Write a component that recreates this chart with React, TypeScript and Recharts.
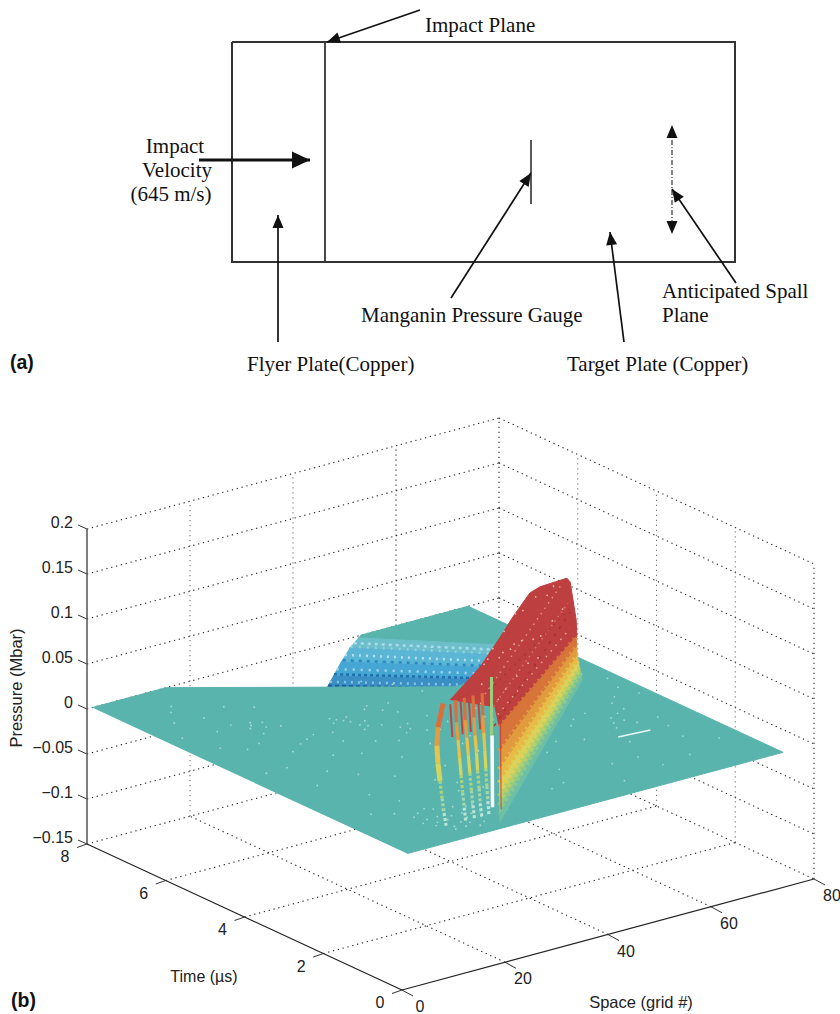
import React from 'react';
import { ScatterChart, Scatter, XAxis, YAxis } from 'recharts';

// 3d axes of panel b
const spaceTicks = [0, 20, 40, 60, 80];
const timeTicks = [0, 2, 4, 6, 8];
const pressureTicks = [-0.15, -0.1, -0.05, 0, 0.05, 0.1, 0.15, 0.2];
const pressureLabels = ['\u22120.15', '\u22120.1', '\u22120.05', '0', '0.05', '0.1', '0.15', '0.2'];

// surface outlines, [space, time, pressure]
const floorFront = [[1, 8, 0], [15.4, 8, 0], [51, 5.34, 0], [74, 5.2, 0], [74, 0, 0], [1, 0, 0]];
const floorBack = [[53.1, 8, 0], [74, 8, 0], [74, 5.2, 0], [67.7, 6.36, 0], [52.1, 7.93, 0]];
const troughLeft = [[52.1, 7.93, 0], [49.6, 7.82, -0.005], [46, 7.57, -0.01], [42.5, 7.31, -0.015], [40, 7.14, -0.02]];
const troughRight = [[67.7, 6.36, 0], [66.2, 6.18, -0.005], [63.9, 5.88, -0.01], [61.9, 5.62, -0.015], [56.8, 5.71, -0.02]];
const troughColors = ['#6cbfc8', '#5ab6d4', '#46a6d4', '#3a8fc4'];
const troughRows = [
  [[50.8, 7.87, -0.0025], [67, 6.27, -0.0025]],
  [[50, 7.84, -0.0045], [66.4, 6.2, -0.0045]],
  [[47.8, 7.7, -0.0075], [65, 6.03, -0.0075]],
  [[46.6, 7.6, -0.0095], [64.2, 5.92, -0.0095]],
  [[44.2, 7.44, -0.0125], [62.9, 5.75, -0.0125]],
  [[43, 7.35, -0.0145], [62.1, 5.65, -0.0145]],
  [[41.2, 7.22, -0.0175], [59.3, 5.66, -0.0175]],
  [[40.4, 7.16, -0.0195], [57.5, 5.7, -0.0195]],
];
const troughRowColors = ['#a9dcee', '#8fd0ea', '#b4e2f2', '#2b86c4', '#a4d8ee', '#1f70ac', '#8cc4e4', '#1a5c98'];
const troughRowDashes = ['3 4', '2 6', '2 5', '3 5', '2 6', '3 3', '2 5', '4 3'];

const plateau = [
  [16, 0.87, 0.13], [28.4, 1.73, 0.13], [38.8, 2.58, 0.13], [45.7, 3.16, 0.13], [54.1, 3.83, 0.13], [57, 3.95, 0.13],
  [62.6, 4, 0.13], [62, 3.84, 0.13], [67, 4.34, 0.07], [67.3, 4.36, 0.05], [20.4, 0.2, 0.107], [19.6, 0.2, 0.13],
];
const shockLeft = [[20.4, 0.2], [68.5, 4.38]];
const shockRightSpace = [68.5, 68.3, 68.1, 67.9, 67.7, 67.5, 67.4, 67.3];
const shockLeftLevels = [0, 0.01, 0.02, 0.03, 0.045, 0.06, 0.08, 0.107];
const shockRightLevels = [0, 0.005, 0.01, 0.015, 0.022, 0.03, 0.04, 0.05];
const shockColors = ['#6dbfa6', '#8cc98a', '#b5d06a', '#dcd25a', '#e8bb48', '#e29a3e', '#d6743a'];

// mesh lines across the red plateau
const plateauRows = [
  [[23, 0.9, 0.125], [61, 3.95, 0.125]],
  [[24, 0.9, 0.105], [62, 3.9, 0.105]],
  [[24, 0.8, 0.09], [64, 4.1, 0.088]],
  [[23, 0.7, 0.1], [64, 4.1, 0.07]],
  [[27, 1.3, 0.115], [63, 4, 0.095]],
];
const plateauRowColors = ['#e0938a', '#d8786e', '#a83232', '#e8a598', '#a93636'];
const plateauRowDashes = ['1.5 5', '1.5 4', '3 6', '1.5 6', '2 5'];

// spikes in front of the shock: space of each spike at each pressure level
const spikeLevels = [0.14, 0.115, 0.095, 0.075, 0.055, 0.035, 0.018, 0.003];
const spikeSpace = [
  [11.8, 10.8, 10.6, 10.8, 11.2, 11.6, 12, 12.4],
  [14.2, 14.4, 14.7, 15, 15.3, 15.6, 15.9, 16.2],
  [15.9, 16.1, 16.4, 16.7, 17, 17.3, 17.6, 17.9],
  [17.6, 17.8, 18, 18.3, 18.5, 18.8, 19, 19.3],
  [19.4, 19.5, 19.7, 19.9, 20.1, 20.3, 20.5, 20.7],
];
const spikeColors = ['#d9703c', '#e59a3e', '#e8c24a', '#d6d45c', '#aed479', '#a2d8a8', '#b8e4d4'];
const spikeGaps = [13.2, 15.2, 16.8, 18.6];

// pale mesh gaps on the teal floor, [space, time]
const floorSpecks = [
  [15.8, 5.9], [16.4, 6], [14.9, 5.8], [17.2, 5.7], [15.2, 5.5], [18, 5.9], [19.3, 5.6], [13.4, 6.1], [12, 6.6], [9.4, 7.1],
  [11, 7.3], [17.4, 6.8], [21, 6.5], [27.8, 5.3], [28.4, 5.2], [27.2, 5.4], [29, 5.1], [29.7, 5.3], [26.5, 5.2], [24, 4.9],
  [34, 5.4], [35.2, 5.5], [36, 5.2], [37.4, 5], [38.6, 5.4], [40, 4.6], [30, 4], [33, 3.6], [26, 3.4], [22, 3.9], [18, 4.1],
  [20, 2.8], [24, 2.3], [29, 2.7], [33, 2.2], [37, 2.9], [12, 2.4], [8, 3.2], [10, 1.5], [16, 1.3], [22, 1.1], [27, 0.9],
  [7, 1.7], [5, 4.1], [9, 5.1], [4, 6.1], [41, 6.4], [44, 6], [46, 5.5], [48, 4.4], [43, 3.1], [45, 2.2], [42, 1.5], [39, 1],
  [55, 1.2], [58, 1.8], [56, 0.7], [62, 0.8], [66, 1.5], [70, 1.1], [64, 2.9], [68, 2.4], [72, 3.4], [70, 4.6], [72, 4.2],
  [60, 3.2], [66, 3.3], [53, 2.3], [50, 1.2], [47, 0.5], [29.3, 4.9], [30.1, 4.8], [28.7, 4.7], [31, 5], [33.7, 4.45],
  [34.5, 4.3], [33, 4.2], [35.5, 4.5], [36.2, 4.1], [32, 4.7], [38, 4], [41, 4.2], [43, 4.6], [40, 3.5], [37, 3.3], [27, 4.2],
  [23, 4.5], [21, 5], [19, 4.9], [17, 4.8], [14, 4.6], [12, 5.2], [10, 6], [7, 6.7], [6, 5.4], [13, 3.6], [16, 3.2], [9, 4.1],
  [28, 1.6], [31, 1.2], [34, 1.6], [36, 0.9], [24, 1.7], [26, 2], [14, 1.9], [11, 0.9], [12, 0.7], [13, 0.8], [14, 0.5], [15, 0.8],
  [16, 0.6], [17, 0.5], [18, 0.7], [19, 0.4], [20, 0.6], [12.5, 1], [14.5, 1], [16.5, 0.9], [18.5, 0.9], [13.5, 0.4], [15.5, 0.4],
  [17.5, 0.3], [19.5, 0.8], [11.5, 1.2], [13, 1.3], [15, 1.4], [17, 1.2], [19, 1.2], [20.8, 1.1], [25, 0.6], [30, 1.8], [26, 1.2],
  [62, 2.8], [63, 2.6], [61, 2.6], [64, 2.4], [60, 2.4], [66, 3], [68, 3.5], [71, 3.8], [67, 2], [55, 2.9], [49, 2.5], [57, 3.1],
];
const floorStreak = [[57.8, 2.07, 0], [63.6, 2.01, 0]];

// pale mesh gaps on the red plateau, [space, time, pressure]
const plateauSpecks = [
  [32, 2.1, 0.12], [35, 2.4, 0.115], [38, 2.5, 0.11], [41, 2.8, 0.105], [44, 3, 0.1], [47, 3.3, 0.095], [50, 3.5, 0.09],
  [53, 3.6, 0.085], [56, 3.8, 0.08], [59, 3.9, 0.09], [61, 3.9, 0.1], [48, 3.4, 0.125], [51, 3.6, 0.12], [55, 3.8, 0.125],
  [58, 3.9, 0.12], [60, 4, 0.125], [42, 2.9, 0.125], [36, 2.4, 0.125], [30, 1.9, 0.105], [26, 1.4, 0.1], [23, 0.9, 0.1],
  [28, 1.4, 0.085], [34, 2, 0.08], [40, 2.6, 0.07], [46, 3.1, 0.065], [52, 3.6, 0.06], [57, 4, 0.05],
];

// schematic of panel a, in page units
const plateOutline = [[232, 42], [735, 42], [735, 262], [232, 262], [232, 42]];
const impactPlane = [[325, 42], [325, 262]];
const gaugeLine = [[531, 140], [531, 204]];
const spallPlane = [[672, 130], [672, 232]];
const arrowFrom = [[420, 10], [199, 160], [278, 342], [451, 298], [624, 342], [736, 283], [672, 200], [672, 160]];
const arrowTo = [[327, 42], [310, 160], [278, 215], [531, 173], [610, 232], [672, 189], [672, 125], [672, 234]];
const arrowBold = [false, true, false, false, false, false, false, false];
const arrowShaft = [true, true, true, true, true, true, false, false];

const schematicText = [
  { x: 425, y: 27, label: 'Impact Plane' },
  { x: 175, y: 148, label: 'Impact', anchor: 'middle' },
  { x: 177, y: 172, label: 'Velocity', anchor: 'middle' },
  { x: 171, y: 196, label: '(645 m/s)', anchor: 'middle' },
  { x: 361, y: 317, label: 'Manganin Pressure Gauge' },
  { x: 662, y: 293, label: 'Anticipated Spall' },
  { x: 662, y: 317, label: 'Plane' },
  { x: 247, y: 366, label: 'Flyer Plate(Copper)' },
  { x: 567, y: 366, label: 'Target Plate (Copper)' },
];

const serif = '"Liberation Serif", serif';
const sans = '"Liberation Sans", Arial, sans-serif';
const TEAL = '#5ab4ae';

const project = (s: number, t: number, p: number) => ({
  x: 402 + 5.15 * s - 39.375 * t,
  y: 990 - 1.3875 * s - 18.25 * t - (p + 0.15) * 900,
});
const path3d = (pts: number[][]) => pts.map(([s, t, p]) => project(s, t, p));
const path2d = (pts: number[][]) => pts.map(([x, y]) => ({ x, y }));
const noDot = () => null;

function Poly({ data, color }: any) {
  return <Scatter data={data} shape={noDot} isAnimationActive={false} line={{ stroke: color, fill: color, strokeWidth: 1 }} />;
}
function Stroke({ data, color, width = 1, dash }: any) {
  return <Scatter data={data} shape={noDot} isAnimationActive={false} line={{ stroke: color, strokeWidth: width, strokeDasharray: dash, fill: 'none' }} />;
}
function textDots(font: string, size: number, color = '#111') {
  return (p: any) => (
    <text x={p.cx} y={p.cy} fontFamily={font} fontSize={p.payload.size || size} fill={color} textAnchor={p.payload.anchor || 'start'} dominantBaseline="middle">
      {p.payload.label}
    </text>
  );
}
function arrowHead(p: any) {
  const { angle, big } = p.payload;
  const len = big ? 18 : 13;
  const half = big ? 8.5 : 5.5;
  return <polygon points={`0,0 ${-len},${-half} ${-len},${half}`} fill="#111" transform={`translate(${p.cx} ${p.cy}) rotate(${angle})`} />;
}
const boldLabel = (p: any) => (
  <text x={p.cx} y={p.cy} fontFamily={sans} fontSize={19.5} fontWeight="bold" fill="#111" dominantBaseline="middle">{p.payload.label}</text>
);

function PanelA() {
  const heads = arrowTo.map(([x, y], i) => ({
    x, y, big: arrowBold[i],
    angle: (Math.atan2(y - arrowFrom[i][1], x - arrowFrom[i][0]) * 180) / Math.PI,
  }));
  return (
    <ScatterChart width={840} height={380} margin={{ top: 0, right: 0, bottom: 0, left: 0 }}>
      <XAxis type="number" dataKey="x" domain={[0, 840]} hide />
      <YAxis type="number" dataKey="y" domain={[0, 380]} reversed hide />
      {Stroke({ data: path2d(plateOutline), color: '#333', width: 2 })}
      {Stroke({ data: path2d(impactPlane), color: '#333', width: 1.8 })}
      {Stroke({ data: path2d(gaugeLine), color: '#222', width: 1.5 })}
      {Stroke({ data: path2d(spallPlane), color: '#222', width: 1.1, dash: '5 2 1 2' })}
      {arrowFrom.map((from, i) =>
        arrowShaft[i] ? (
          <Scatter key={i} data={path2d([from, arrowTo[i]])} shape={noDot} isAnimationActive={false}
            line={{ stroke: '#111', strokeWidth: arrowBold[i] ? 2.8 : 1.7, fill: 'none' }} />
        ) : null,
      )}
      <Scatter data={heads} shape={arrowHead} isAnimationActive={false} />
      <Scatter data={schematicText} shape={textDots(serif, 21)} isAnimationActive={false} />
      <Scatter data={[{ x: 10, y: 364, label: '(a)' }]} isAnimationActive={false} shape={boldLabel} />
    </ScatterChart>
  );
}

function PanelB() {
  const low = pressureTicks[0];
  const high = pressureTicks[pressureTicks.length - 1];
  const grid: any[] = [];
  pressureTicks.forEach((p) => {
    grid.push({ d: path3d([[0, 8, p], [80, 8, p]]), c: '#2a2a2a' });
    grid.push({ d: path3d([[80, 8, p], [80, 0, p]]), c: '#2a2a2a' });
  });
  spaceTicks.slice(1).forEach((s) => grid.push({ d: path3d([[s, 8, low], [s, 8, high]]), c: s < 60 ? '#777' : '#2a2a2a' }));
  timeTicks.slice(0, 4).forEach((t) => grid.push({ d: path3d([[80, t, low], [80, t, high]]), c: t === 0 ? '#2a2a2a' : '#777' }));
  spaceTicks.slice(1, 4).forEach((s) => grid.push({ d: path3d([[s, 0, low], [s, 8, low]]), c: '#2a2a2a' }));
  timeTicks.slice(1, 4).forEach((t) => grid.push({ d: path3d([[0, t, low], [80, t, low]]), c: '#2a2a2a' }));

  const troughBands = troughColors.map((_, i) => [troughLeft[i], troughRight[i], troughRight[i + 1], troughLeft[i + 1]]);
  const shockRow = (i: number) => [
    [shockLeft[0][0], shockLeft[0][1], shockLeftLevels[i]],
    [shockRightSpace[i], shockLeft[1][1], shockRightLevels[i]],
  ];
  const shockBands = shockColors.map((_, i) => [...shockRow(i), ...shockRow(i + 1).reverse()]);

  const ticks: any[] = [];
  pressureTicks.forEach((p) => {
    const a = project(0, 8, p);
    ticks.push([a, { x: a.x - 9, y: a.y - 4 }]);
  });
  timeTicks.forEach((t) => {
    const a = project(0, t, low);
    ticks.push([a, { x: a.x - 10, y: a.y + 3.5 }]);
  });
  spaceTicks.forEach((s) => {
    const a = project(s, 0, low);
    ticks.push([a, { x: a.x + 11, y: a.y + 6 }]);
  });

  const labels: any[] = [];
  pressureTicks.forEach((p, i) => {
    const a = project(0, 8, p);
    labels.push({ x: a.x - 14, y: a.y - 5, label: pressureLabels[i], anchor: 'end' });
  });
  timeTicks.forEach((t) => {
    const a = project(0, t, low);
    labels.push({ x: a.x - 22, y: a.y + 14, label: String(t), anchor: 'middle' });
  });
  spaceTicks.forEach((s) => {
    const a = project(s, 0, low);
    labels.push({ x: a.x + 18, y: a.y + 18, label: String(s), anchor: 'middle' });
  });
  labels.push({ x: 204, y: 978, label: 'Time (\u00b5s)', anchor: 'middle', size: 16 });
  labels.push({ x: 641, y: 1004, label: 'Space (grid #)', anchor: 'middle', size: 16.5 });

  return (
    <ScatterChart width={840} height={634} margin={{ top: 0, right: 0, bottom: 0, left: 0 }}>
      <XAxis type="number" dataKey="x" domain={[0, 840]} hide />
      <YAxis type="number" dataKey="y" domain={[380, 1014]} reversed hide />
      {grid.map((g, i) => (
        <Scatter key={i} data={g.d} shape={noDot} isAnimationActive={false}
          line={{ stroke: g.c, strokeWidth: 1.1, strokeDasharray: '1.3 3.7', fill: 'none' }} />
      ))}
      {Poly({ data: path3d(floorBack), color: TEAL })}
      {troughBands.map((b, i) => (
        <Scatter key={i} data={path3d(b)} shape={noDot} isAnimationActive={false}
          line={{ stroke: troughColors[i], fill: troughColors[i], strokeWidth: 1 }} />
      ))}
      {troughRows.map((r, i) => (
        <Scatter key={i} data={path3d(r)} shape={noDot} isAnimationActive={false}
          line={{ stroke: troughRowColors[i], strokeWidth: 2.5, strokeDasharray: troughRowDashes[i], fill: 'none' }} />
      ))}
      {Poly({ data: path3d(floorFront), color: TEAL })}
      <Scatter data={floorSpecks.map(([s, t]) => project(s, t, 0))} isAnimationActive={false}
        shape={(p: any) => <circle cx={p.cx} cy={p.cy} r={0.9} fill="#a5dcd4" />} />
      {Stroke({ data: path3d(floorStreak), color: '#e8f6f4', width: 1.5 })}
      {Poly({ data: path3d(plateau), color: '#bd3f3f' })}
      {shockBands.map((b, i) => (
        <Scatter key={i} data={path3d(b)} shape={noDot} isAnimationActive={false}
          line={{ stroke: shockColors[i], fill: shockColors[i], strokeWidth: 1 }} />
      ))}
      {shockColors.map((c, i) => (
        <Scatter key={i} data={path3d(shockRow(i + 1))} shape={noDot} isAnimationActive={false}
          line={{ stroke: c, strokeWidth: 4, strokeDasharray: '2 4', fill: 'none' }} />
      ))}
      {plateauRows.map((r, i) => (
        <Scatter key={i} data={path3d(r)} shape={noDot} isAnimationActive={false}
          line={{ stroke: plateauRowColors[i], strokeWidth: 1.5, strokeDasharray: plateauRowDashes[i], fill: 'none' }} />
      ))}
      <Scatter data={plateauSpecks.map(([s, t, p]) => project(s, t, p))} isAnimationActive={false}
        shape={(p: any) => <circle cx={p.cx} cy={p.cy} r={0.9} fill="#eeb9b0" />} />
      {spikeGaps.map((s, i) => (
        <Scatter key={i} data={path3d([[s, 0.5, 0.137], [s + 0.4, 0.5, 0.1]])} shape={noDot} isAnimationActive={false}
          line={{ stroke: '#c0463c', strokeWidth: 2, fill: 'none' }} />
      ))}
      {spikeSpace.map((row, i) =>
        row.slice(0, -1).map((s, j) => (
          <Scatter key={`${i}-${j}`} data={path3d([[s, 0.5, spikeLevels[j]], [row[j + 1], 0.5, spikeLevels[j + 1]]])}
            shape={noDot} isAnimationActive={false}
            line={{ stroke: spikeColors[j], strokeWidth: i === 0 && j < 4 ? 5 : 3.2, strokeDasharray: j > 3 ? '3 2' : undefined, fill: 'none' }} />
        )),
      )}
      {Stroke({ data: path3d([[21.4, 0.5, 0.01], [21.3, 0.5, 0.09]]), color: '#ffffff', width: 3.5 })}
      {Stroke({ data: path3d([[21.2, 0.5, 0.09], [21.2, 0.5, 0.155]]), color: '#9ccc7e', width: 3 })}
      {Stroke({ data: path3d([[22.3, 0.4, 0.008], [22.2, 0.4, 0.11]]), color: '#c8403a', width: 1 })}
      {ticks.map((t, i) => (
        <Scatter key={i} data={t} shape={noDot} isAnimationActive={false} line={{ stroke: '#333', strokeWidth: 1, fill: 'none' }} />
      ))}
      {Stroke({ data: path3d([[0, 8, low], [0, 8, high]]), color: '#555', width: 1.5 })}
      {Stroke({ data: path3d([[0, 8, low], [0, 0, low]]), color: '#222', width: 1.2 })}
      {Stroke({ data: path3d([[0, 0, low], [80, 0, low]]), color: '#222', width: 1.2 })}
      <Scatter data={labels} shape={textDots(sans, 16, '#222')} isAnimationActive={false} />
      <Scatter data={[{ x: 18, y: 688, label: 'Pressure (Mbar)' }]} isAnimationActive={false}
        shape={(p: any) => (
          <text transform={`translate(${p.cx} ${p.cy}) rotate(-90)`} fontFamily={sans} fontSize={16.5} fill="#222" textAnchor="middle" dominantBaseline="middle">
            {p.payload.label}
          </text>
        )} />
      <Scatter data={[{ x: 11, y: 1002, label: '(b)' }]} isAnimationActive={false} shape={boldLabel} />
    </ScatterChart>
  );
}

export default function App() {
  return (
    <div style={{ position: 'absolute', left: 0, top: 0, width: 840, height: 1014, overflow: 'hidden', background: '#fff' }}>
      <PanelA />
      <PanelB />
    </div>
  );
}
